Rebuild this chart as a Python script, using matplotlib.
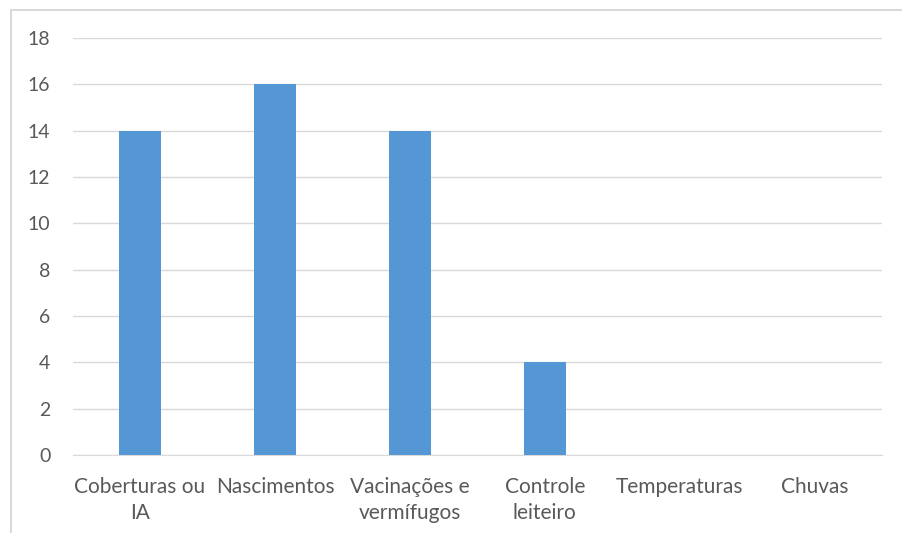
import matplotlib.pyplot as plt
from matplotlib.lines import Line2D

# Chart data
categories = ["Coberturas ou\nIA", "Nascimentos", "Vacinações e\nvermífugos",
              "Controle\nleiteiro", "Temperaturas", "Chuvas"]
values = [14, 16, 14, 4, 0, 0]
y_ticks = list(range(0, 20, 2))

plt.rcParams['font.family'] = ['Lato', 'DejaVu Sans']

fig = plt.figure(figsize=(9.03, 5.33), dpi=100)
ax = fig.add_axes([0.0803, 0.1463, 0.8967, 0.7824])

x = range(len(categories))
ax.bar(x, values, width=0.31, color='#5596D4', zorder=3)

ax.set_xlim(-0.5, len(categories) - 0.5)
ax.set_ylim(0, 18)
ax.set_yticks(y_ticks)
ax.set_xticks(list(x))
ax.set_xticklabels(categories, linespacing=1.38)

ax.grid(axis='y', color='#D9D9D9', linewidth=1, zorder=0)
for s in ['top', 'right', 'left']:
    ax.spines[s].set_visible(False)
ax.spines['bottom'].set_color('#D9D9D9')
ax.tick_params(axis='both', length=0, colors='#595959')
ax.tick_params(axis='x', pad=16, labelsize=15)
ax.tick_params(axis='y', pad=16, labelsize=14)

# outer chart border (only left and top are visible in the crop)
fig.add_artist(Line2D([11 / 903, 11 / 903, 1.0], [0.0, 1 - 10 / 533, 1 - 10 / 533],
                      transform=fig.transFigure, color='#D9D9D9', linewidth=1.5))

fig.savefig('out.png', dpi=100)
